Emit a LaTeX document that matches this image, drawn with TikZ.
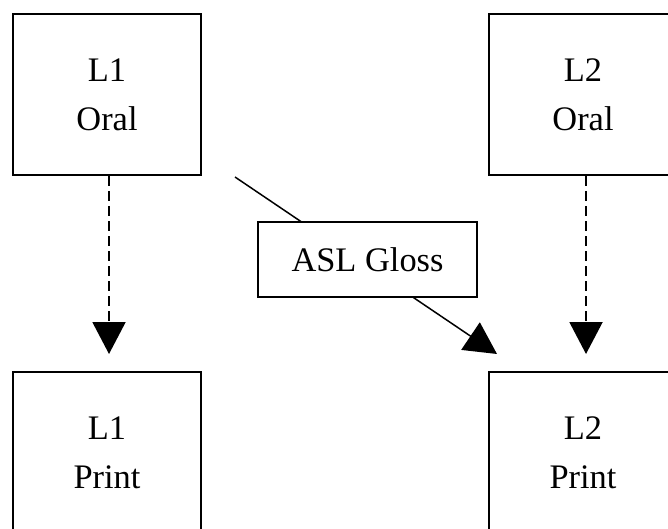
\documentclass[tikz,border=0pt]{standalone}
\usepackage{fontspec}
\setmainfont{Liberation Serif}
\usetikzlibrary{arrows.meta,backgrounds}
\tikzset{
  langbox/.style={draw, line width=1pt, fill=white, minimum width=94pt, minimum height=80.5pt, inner sep=0pt, align=center},
  glossbox/.style={draw, line width=1pt, fill=white, minimum width=109.5pt, minimum height=37.5pt, inner sep=0pt},
  bigtip/.style={-{Triangle[width=16.5pt,length=16pt]}},
  dasharrow/.style={bigtip, line width=1pt, dash pattern=on 5pt off 2.5pt, shorten >=8.5pt},
  glossarrow/.style={bigtip, line width=0.75pt}
}
\begin{document}
\begin{tikzpicture}[x=0.5pt, y=-0.5pt, font=\fontsize{17.2}{24.5}\selectfont, line join=miter]
  \useasboundingbox (0,0) rectangle (668,529);
  \clip (0,0) rectangle (668,529);
  % the four boxes, partly cut off by the frame
  \node[langbox] (l1oral) at (107,94.5) {L1\\Oral};
  \node[langbox] (l2oral) at (583,94.5) {L2\\Oral};
  \node[langbox] (l1print) at (107,452.5) {L1\\Print};
  \node[langbox] (l2print) at (583,452.5) {L2\\Print};
  \node[glossbox] (gloss) at (367.5,259.5) {ASL Gloss};
  \coordinate (gstart) at (235,177);
  \coordinate (gtip) at (497,354);
  \draw[dasharrow] ([xshift=1pt]l1oral.south) -- ([xshift=1pt]l1print.north);
  \draw[dasharrow] ([xshift=1.5pt]l2oral.south) -- ([xshift=1.5pt]l2print.north);
  \begin{pgfonlayer}{background}
    \draw[glossarrow] (gstart) -- (gtip);
  \end{pgfonlayer}
\end{tikzpicture}
\end{document}
